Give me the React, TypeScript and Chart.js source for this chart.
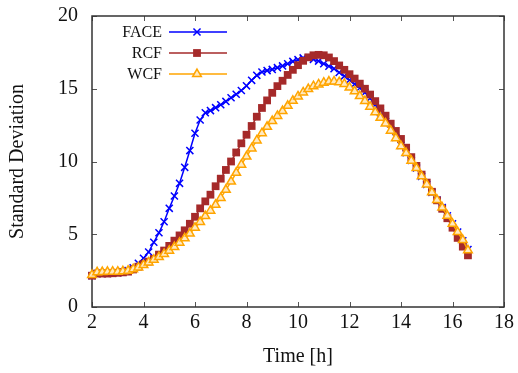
import React, { useEffect, useRef } from 'react';
import { Chart, registerables } from 'chart.js';

Chart.register(...registerables);

const times = [
  2.0, 2.2, 2.4, 2.6, 2.8, 3.0, 3.2, 3.4, 3.6, 3.8,
  4.0, 4.2, 4.4, 4.6, 4.8, 5.0, 5.2, 5.4, 5.6, 5.8,
  6.0, 6.2, 6.4, 6.6, 6.8, 7.0, 7.2, 7.4, 7.6, 7.8,
  8.0, 8.2, 8.4, 8.6, 8.8, 9.0, 9.2, 9.4, 9.6, 9.8,
  10.0, 10.2, 10.4, 10.6, 10.8, 11.0, 11.2, 11.4, 11.6, 11.8,
  12.0, 12.2, 12.4, 12.6, 12.8, 13.0, 13.2, 13.4, 13.6, 13.8,
  14.0, 14.2, 14.4, 14.6, 14.8, 15.0, 15.2, 15.4, 15.6, 15.8,
  16.0, 16.2, 16.4, 16.6,
];

const faceValues = [
  2.15, 2.3, 2.3, 2.3, 2.32, 2.35, 2.42, 2.5, 2.7, 3.0,
  3.35, 3.78, 4.45, 5.1, 5.86, 6.78, 7.63, 8.5, 9.6, 10.75,
  11.94, 12.85, 13.35, 13.5, 13.7, 13.9, 14.13, 14.38, 14.62, 14.88,
  15.2, 15.58, 15.92, 16.15, 16.25, 16.33, 16.45, 16.57, 16.72, 16.88,
  17.0, 17.12, 17.12, 17.02, 16.9, 16.72, 16.55, 16.38, 16.12, 15.87,
  15.6, 15.32, 15.05, 14.75, 14.35, 13.9, 13.35, 12.75, 12.2, 11.65,
  11.1, 10.6, 10.08, 9.55, 8.98, 8.42, 7.88, 7.35, 6.83, 6.27,
  5.72, 5.15, 4.55, 3.95,
];

const rcfValues = [
  2.15, 2.3, 2.3, 2.3, 2.32, 2.35, 2.38, 2.43, 2.58, 2.77,
  2.95, 3.12, 3.3, 3.6, 3.88, 4.2, 4.56, 4.92, 5.27, 5.72,
  6.2, 6.78, 7.26, 7.72, 8.3, 8.82, 9.42, 10.0, 10.62, 11.25,
  11.84, 12.44, 13.08, 13.68, 14.2, 14.72, 15.18, 15.55, 15.95, 16.3,
  16.62, 16.92, 17.16, 17.3, 17.33, 17.3, 17.15, 16.9, 16.6, 16.3,
  16.0, 15.7, 15.35, 15.0, 14.6, 14.15, 13.65, 13.15, 12.6, 12.1,
  11.55, 10.95, 10.3, 9.7, 9.1, 8.55, 7.92, 7.33, 6.75, 6.1,
  5.45, 4.75, 4.15, 3.55,
];

const wcfValues = [
  2.2, 2.38, 2.4, 2.42, 2.43, 2.43, 2.45, 2.5, 2.6, 2.72,
  2.88, 3.06, 3.25, 3.43, 3.65, 3.87, 4.12, 4.42, 4.72, 5.05,
  5.45, 5.85, 6.25, 6.62, 7.02, 7.5, 8.05, 8.62, 9.22, 9.78,
  10.34, 10.9, 11.45, 11.95, 12.38, 12.78, 13.13, 13.47, 13.83, 14.17,
  14.47, 14.75, 14.98, 15.18, 15.3, 15.42, 15.49, 15.5, 15.45, 15.33,
  15.08, 14.82, 14.5, 14.15, 13.77, 13.38, 13.0, 12.62, 12.12, 11.6,
  11.05, 10.58, 10.06, 9.55, 8.98, 8.42, 7.88, 7.36, 6.83, 6.27,
  5.72, 5.15, 4.6, 3.9,
];

const seriesLabels = ['FACE', 'RCF', 'WCF'];
const xTickValues = [2, 4, 6, 8, 10, 12, 14, 16, 18];
const yTickValues = [0, 5, 10, 15, 20];
const xTitle = 'Time [h]';
const yTitle = 'Standard Deviation';

const FONT = "'Liberation Serif', 'Times New Roman', Times, serif";

function drawMarker(
  ctx: CanvasRenderingContext2D,
  style: string,
  x: number,
  y: number,
  r: number,
  fill: string,
  stroke: string,
  lw: number
) {
  ctx.save();
  ctx.lineWidth = lw;
  ctx.strokeStyle = stroke;
  ctx.fillStyle = fill;
  if (style === 'crossRot') {
    const d = r * Math.SQRT1_2;
    ctx.beginPath();
    ctx.moveTo(x - d, y - d);
    ctx.lineTo(x + d, y + d);
    ctx.moveTo(x - d, y + d);
    ctx.lineTo(x + d, y - d);
    ctx.stroke();
  } else if (style === 'rect') {
    const s = r * Math.SQRT1_2;
    ctx.fillRect(x - s, y - s, 2 * s, 2 * s);
  } else if (style === 'triangle') {
    ctx.beginPath();
    for (let i = 0; i < 3; i++) {
      const a = (i * 2 * Math.PI) / 3;
      const px = x + Math.sin(a) * r;
      const py = y - Math.cos(a) * r;
      if (i === 0) ctx.moveTo(px, py);
      else ctx.lineTo(px, py);
    }
    ctx.closePath();
    ctx.fill();
    ctx.stroke();
  }
  ctx.restore();
}

const framePlugin = {
  id: 'frame',
  beforeDatasetsDraw(chart: any) {
    const { ctx, chartArea: a, scales } = chart;
    ctx.save();
    ctx.strokeStyle = '#555';
    ctx.lineWidth = 1;
    const L = 5;
    ctx.beginPath();
    xTickValues.forEach((v) => {
      const px = Math.round(scales.x.getPixelForValue(v)) + 0.5;
      ctx.moveTo(px, a.bottom);
      ctx.lineTo(px, a.bottom - L);
      ctx.moveTo(px, a.top);
      ctx.lineTo(px, a.top + L);
    });
    yTickValues.forEach((v) => {
      const py = Math.round(scales.y.getPixelForValue(v)) + 0.5;
      ctx.moveTo(a.left, py);
      ctx.lineTo(a.left + L, py);
      ctx.moveTo(a.right, py);
      ctx.lineTo(a.right - L, py);
    });
    ctx.stroke();
    ctx.strokeStyle = '#333';
    ctx.lineWidth = 1.5;
    ctx.strokeRect(a.left, a.top, a.right - a.left, a.bottom - a.top);
    ctx.restore();
  },
};

const legendPlugin = {
  id: 'insideLegend',
  afterDraw(chart: any) {
    const { ctx, chartArea: a } = chart;
    const textRight = a.left + 70;
    const lineStart = a.left + 77;
    const lineEnd = a.left + 135;
    const markerX = a.left + 105;
    ctx.save();
    ctx.font = `16px ${FONT}`;
    ctx.textAlign = 'right';
    ctx.textBaseline = 'middle';
    chart.data.datasets.forEach((ds: any, i: number) => {
      const y = a.top + 16 + i * 21;
      ctx.fillStyle = '#111';
      ctx.fillText(ds.label, textRight, y + 1);
      ctx.strokeStyle = ds.borderColor;
      ctx.lineWidth = ds.borderWidth;
      ctx.beginPath();
      ctx.moveTo(lineStart, y);
      ctx.lineTo(lineEnd, y);
      ctx.stroke();
      drawMarker(
        ctx,
        ds.pointStyle,
        markerX,
        y,
        ds.pointRadius,
        ds.pointBackgroundColor,
        ds.pointBorderColor,
        ds.pointBorderWidth
      );
    });
    ctx.restore();
  },
};

export default function App() {
  const canvasRef = useRef<HTMLCanvasElement | null>(null);

  useEffect(() => {
    if (!canvasRef.current) return;
    const toPoints = (vals: number[]) => times.map((t, i) => ({ x: t, y: vals[i] }));
    const chart = new Chart(canvasRef.current, {
      type: 'line',
      data: {
        datasets: [
          {
            label: seriesLabels[0],
            data: toPoints(faceValues),
            borderColor: '#0000ff',
            borderWidth: 1.5,
            pointStyle: 'crossRot',
            pointRadius: 5,
            pointBorderWidth: 1.5,
            pointBackgroundColor: '#0000ff',
            pointBorderColor: '#0000ff',
            order: 2,
            clip: false as any,
          },
          {
            label: seriesLabels[1],
            data: toPoints(rcfValues),
            borderColor: '#a52a2a',
            borderWidth: 1.5,
            pointStyle: 'rect',
            pointRadius: 5.5,
            pointBorderWidth: 0,
            pointBackgroundColor: '#a52a2a',
            pointBorderColor: '#a52a2a',
            order: 1,
            clip: false as any,
          },
          {
            label: seriesLabels[2],
            data: toPoints(wcfValues),
            borderColor: '#ffa500',
            borderWidth: 1.5,
            pointStyle: 'triangle',
            pointRadius: 5,
            pointBorderWidth: 1.5,
            pointBackgroundColor: '#ffe9c0',
            pointBorderColor: '#ffa500',
            order: 0,
            clip: false as any,
          },
        ],
      },
      options: {
        animation: false,
        responsive: false,
        events: [],
        layout: { padding: { left: 0, right: 14, top: 16, bottom: 0 } },
        plugins: {
          legend: { display: false },
          tooltip: { enabled: false },
        },
        elements: { line: { tension: 0 } },
        scales: {
          x: {
            type: 'linear',
            min: 2,
            max: 18,
            afterBuildTicks: (s: any) => {
              s.ticks = xTickValues.map((v) => ({ value: v }));
            },
            afterFit: (s: any) => {
              s.height = 66;
              s.paddingLeft = 0;
              s.paddingRight = 0;
            },
            grid: { display: false, drawTicks: false },
            border: { display: false },
            ticks: {
              color: '#111',
              font: { family: FONT, size: 20 },
              padding: 4,
              maxRotation: 0,
              autoSkip: false,
            },
            title: {
              display: true,
              text: xTitle,
              color: '#111',
              font: { family: FONT, size: 20 },
              padding: { top: 0, bottom: 4 },
            },
          },
          y: {
            type: 'linear',
            min: 0,
            max: 20,
            afterBuildTicks: (s: any) => {
              s.ticks = yTickValues.map((v) => ({ value: v }));
            },
            afterFit: (s: any) => {
              s.width = 92;
              s.paddingTop = 0;
              s.paddingBottom = 0;
            },
            grid: { display: false, drawTicks: false },
            border: { display: false },
            ticks: {
              color: '#111',
              font: { family: FONT, size: 20 },
              padding: 14,
              autoSkip: false,
            },
            title: {
              display: true,
              text: yTitle,
              color: '#111',
              font: { family: FONT, size: 20 },
              padding: { top: 6, bottom: 4 },
            },
          },
        },
      },
      plugins: [framePlugin, legendPlugin],
    });
    return () => chart.destroy();
  }, []);

  return (
    <div style={{ position: 'fixed', left: 0, top: 0, width: 518, height: 373, background: '#fff' }}>
      <canvas ref={canvasRef} width={518} height={373} style={{ width: 518, height: 373, display: 'block' }} />
    </div>
  );
}
